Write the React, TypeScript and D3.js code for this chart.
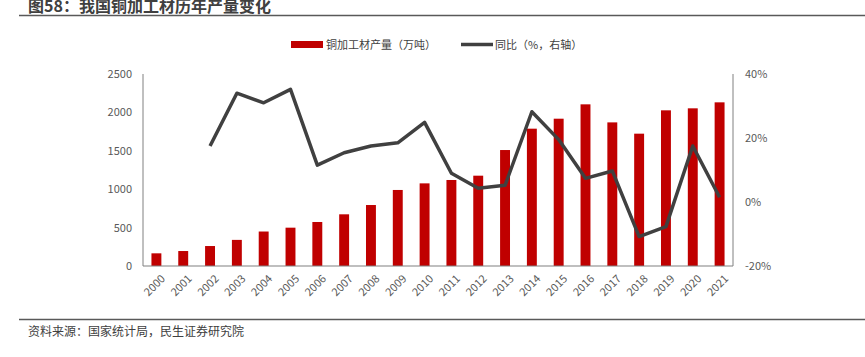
import React from "react";
import * as d3 from "d3";

const years = ["2000","2001","2002","2003","2004","2005","2006","2007","2008","2009","2010","2011","2012","2013","2014","2015","2016","2017","2018","2019","2020","2021"];
const output = [165,195,260,340,449,499,573,673,794,990,1076,1120,1176,1510,1788,1918,2105,1870,1723,2027,2053,2131];
const yoy: (number | null)[] = [null,null,17.5,34.0,31.0,35.2,11.5,15.4,17.5,18.5,24.9,9.0,4.3,5.2,28.2,19.5,7.4,9.7,-10.8,-7.7,17.5,1.5];
const leftTicks = [0,500,1000,1500,2000,2500];
const rightTicks = [-20,0,20,40];

const W = 865, H = 357;
const FONT = "'Noto Sans CJK SC', 'Noto Sans', sans-serif";

export default function App() {
  const x0 = 143, x1 = 733, yTop = 74, yBot = 266;
  const x = d3.scaleBand<string>().domain(years).range([x0, x1]).paddingInner(0.63).paddingOuter(0.315);
  const yL = d3.scaleLinear().domain([0, 2500]).range([yBot, yTop]);
  const yR = d3.scaleLinear().domain([-20, 40]).range([yBot, yTop]);
  const cx = (y: string) => (x(y) ?? 0) + x.bandwidth() / 2;
  const line = d3.line<[string, number | null]>()
    .defined(d => d[1] !== null)
    .x(d => cx(d[0]))
    .y(d => yR(d[1] as number));
  const pts: [string, number | null][] = years.map((y, i) => [y, yoy[i]]);
  return (
    <svg width={W} height={H} style={{ position: "absolute", left: 0, top: 0, fontFamily: FONT }}>
      <rect width={W} height={H} fill="#fff" />
      <text x={28} y={12} fontSize={16} fontWeight="bold" fill="#404040">图58：我国铜加工材历年产量变化</text>
      <line x1={19} x2={W} y1={15.5} y2={15.5} stroke="#595959" strokeWidth={1.5} />
      {/* legend */}
      <rect x={291} y={41} width={32} height={7} fill="#C00000" />
      <text x={326} y={49} fontSize={11} fill="#404040">铜加工材产量（万吨）</text>
      <line x1={461} x2={493} y1={44.5} y2={44.5} stroke="#404040" strokeWidth={3.5} />
      <text x={495} y={49} fontSize={11} fill="#404040">同比（%，右轴）</text>
      {/* bars */}
      {years.map((y, i) => (
        <rect key={y} x={x(y)} y={yL(output[i])} width={x.bandwidth()} height={yBot - yL(output[i])} fill="#C00000" />
      ))}
      {/* axes */}
      <line x1={x0} x2={x0} y1={yTop} y2={yBot} stroke="#808080" strokeWidth={1} />
      <line x1={x1} x2={x1} y1={yTop} y2={yBot} stroke="#808080" strokeWidth={1} />
      <line x1={x0} x2={x1} y1={yBot} y2={yBot} stroke="#808080" strokeWidth={1.2} />
      {leftTicks.map(t => (
        <text key={t} x={132} y={yL(t) + 4} fontSize={11} textAnchor="end" fill="#595959">{t}</text>
      ))}
      {rightTicks.map(t => (
        <text key={t} x={745} y={yR(t) + 4} fontSize={11} textAnchor="start" fill="#595959">{t + "%"}</text>
      ))}
      {years.map(y => (
        <text key={y} fontSize={11} fill="#595959" textAnchor="end"
          transform={`translate(${cx(y) + 4},${yBot + 8}) rotate(-45)`} dy="0.7em">{y}</text>
      ))}
      {/* line */}
      <path d={line(pts) ?? ""} fill="none" stroke="#404040" strokeWidth={3.5} strokeLinejoin="round" />
      {/* source */}
      <line x1={19} x2={W} y1={319.5} y2={319.5} stroke="#595959" strokeWidth={1.5} />
      <text x={28} y={336} fontSize={12} fill="#404040">资料来源：国家统计局，民生证券研究院</text>
    </svg>
  );
}
